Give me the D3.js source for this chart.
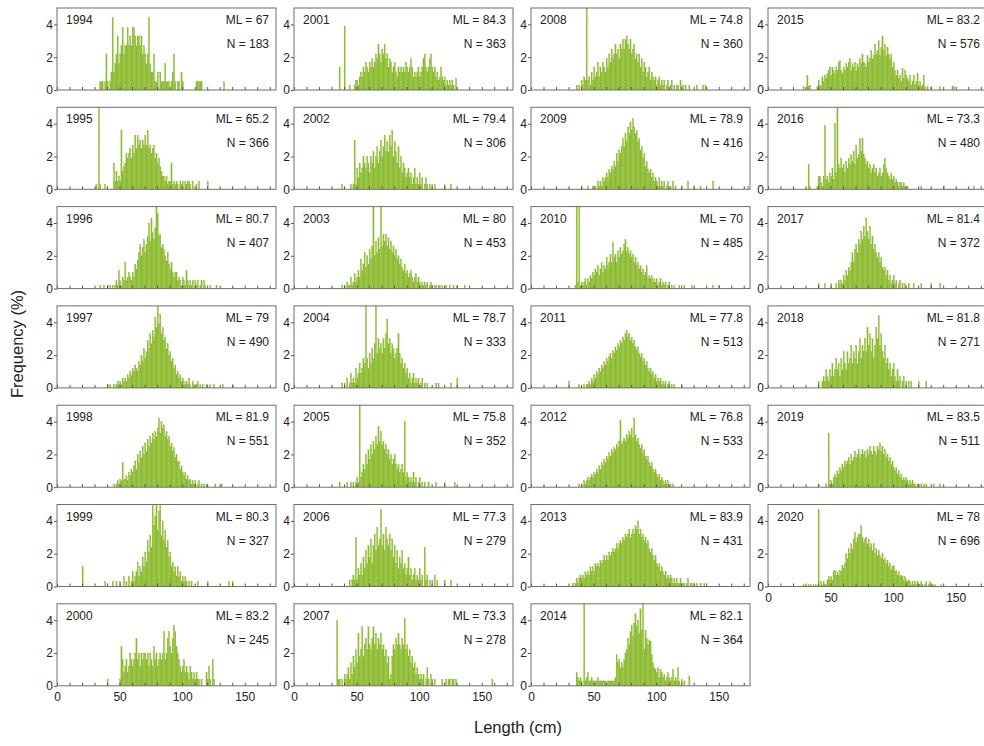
<!DOCTYPE html>
<html lang="en">
<head>
<meta charset="UTF-8">
<title>Length frequency by year</title>
<style>
  body { margin: 0; background: #fff; }
  svg text { font-family: "Liberation Sans", Arial, sans-serif; fill: #222; }
  .bar { fill: #8dbb30; stroke: #8dbb30; stroke-width: 0.25; }
  .frame { fill: none; stroke: #6e6e6e; stroke-width: 1; }
  .axis path { display: none; }
  .axis line { stroke: #555; }
  .axis text { font-size: 12px; fill: #222; }
  .lab { font-size: 12px; }
  .title { font-size: 16.5px; }
</style>
</head>
<body>
<div id="chart"></div>
<script src="https://cdn.jsdelivr.net/npm/d3@7"></script>
<script>
// one panel per year, 1 cm length bins, frequency in %
var years = [1994, 1995, 1996, 1997, 1998, 1999, 2000,
             2001, 2002, 2003, 2004, 2005, 2006, 2007,
             2008, 2009, 2010, 2011, 2012, 2013, 2014,
             2015, 2016, 2017, 2018, 2019, 2020];
var mlValues = [67, 65.2, 80.7, 79, 81.9, 80.3, 83.2,
                84.3, 79.4, 80, 78.7, 75.8, 77.3, 73.3,
                74.8, 78.9, 70, 77.8, 76.8, 83.9, 82.1,
                83.2, 73.3, 81.4, 81.8, 83.5, 78];
var nValues = [183, 366, 407, 490, 551, 327, 245,
               363, 306, 453, 333, 352, 279, 278,
               360, 416, 485, 513, 533, 431, 364,
               576, 480, 372, 271, 511, 696];
// first length bin (cm) of each year's frequency list
var startCm = [34, 31, 34, 40, 45, 20, 40,
               36, 38, 38, 38, 36, 44, 34,
               36, 40, 35, 30, 38, 33, 36,
               28, 32, 40, 40, 40, 28];

var f1994 = [0.5,0.5,0.5,0,0.5,2.2,0.5,0,0.5,1.1, 4.4,1.1,1.6,2.2,3.3,1.6,2.2,2.7,3.8,2.2,
  2.7,2.7,3.8,2.7,3.3,2.7,3.8,3.8,3.3,2.7, 3.3,3.3,2.7,3.3,2.2,2.7,2.2,1.6,2.2,4.4,
  1.6,1.1,1.1,2.2,0.5,0.5,1.1,0,1.1,0.5, 0.5,0.5,1.6,0.5,0.5,0.5,0,0.5,1.1,2.2,
  0.5,0,0.5,0.5,0,1.1,0.5,0,0,0, 0,0,0,0,0,0,0,0.5,0.5,0.5, 0.5,0.5,0,0,0,0,0,0,0,0,
  0,0,0,0,0,0,0,0,0,0.5];
var f1995 = [0.3,0,6,0.3,0,0,0,0.3,0,0,0,0,0,0,1.6,0.5,1.1,0.5,0.8,0.5,
  3.6,1.1,1.4,1.6,2.2,1.9,2.2,2.5,1.9,2.7, 2.2,3.3,2.5,3.3,2.7,3.0,2.5,3.0,2.7,3.3,
  2.7,3.6,2.5,2.7,2.2,2.5,2.7,1.9,2.2,1.6, 1.9,1.4,1.1,0.8,0.8,0.5,0.8,0.3,0.5,0.5,
  1.6,0.3,0.5,0.3,0.5,0.3,0,0.5,0.3,0.5, 0,0.5,0.3,0.5,0.5,0.3,0,0.5,0,0,
  0.3,0,0.5,0,0,0,0,0,0,0.5];
var f1996 = [0.2,0,0,0.2,0,0,0.2,0,0.2,0, 0.2,0,0.2,0.5,0.2,1.1,0.5,0.2,0.7,0.5,
  1.6,0.5,0.7,1.0,0.7,0.5,1.0,0.7,1.5,1.2, 1.7,2.2,2.7,2.0,2.5,3.0,2.2,2.7,3.2,4.0,
  2.9,4.3,3.4,3.0,3.7,5.5,4.6,3.2,3.3,2.5, 2.7,2.4,2.0,1.7,2.2,1.5,1.2,1.6,1.0,0.7,
  1.0,1.0,0.5,0.7,0.5,0.2,0.7,0.5,0.2,1.1, 0.5,0.2,0.5,0.2,0.5,0,0.5,0.2,0.5,0,
  0.2,0.5,0,0.5,0.2,0,0,0,0.2,0, 0,0,0,0.2];
var f1997 = [0.2,0,0.2,0,0,0.2,0,0.2,0.4,0.2, 0.4,0.2,0.6,0.4,0.6,0.4,0.8,0.6,1.0,0.8,
  1.2,1.0,1.4,1.2,1.0,1.6,1.4,2.0,1.6,2.4, 1.8,2.2,2.9,2.4,3.3,2.7,3.5,3.1,4.3,3.7,
  5.3,3.9,4.5,3.3,3.7,2.9,3.1,2.4,2.7,2.0, 2.2,1.6,1.8,1.2,1.4,0.8,1.0,0.6,0.8,0.4,
  0.6,0.4,0.2,0.4,0.2,0.6,0.2,0,0.4,0.2, 0,0.2,0.4,0,0.2,0,0.2,0,0,0.2,
  0,0,0.2,0,0,0.2,0,0,0,0, 0,0,0.2,0,0,0,0,0,0,0,0.2];
var f1998 = [0.2,0,0.2,0.4,0.2,0.5,0.4,1.5,0.4,0.5, 0.7,0.4,0.9,0.7,1.1,0.9,1.3,1.6,1.1,2.0,
  1.5,2.2,1.8,2.5,2.0,2.7,2.2,2.9,2.5,3.1, 2.7,3.3,2.9,3.4,3.1,3.6,4.2,3.3,4.0,3.6,
  3.8,3.1,3.4,2.9,3.1,2.5,2.7,2.2,2.4,1.8, 2.0,1.5,1.6,1.1,1.3,0.9,0.7,0.9,0.5,0.7,
  0.4,0.5,0.2,0.4,0.2,0.4,0,0.2,0.4,0, 0.2,0,0.2,0,0.2,0,0,0,0,0, 0,0.2,0,0,0,0,0.2];
var f1999 = [1.2,0,0,0,0,0,0,0,0,0, 0,0,0,0,0,0,0,0,0.3,0, 0,0,0,0,0.3,0,0,0.3,0,0,
  0.3,0,0,0.6,0,0.3,0,0.6,0,0.3, 0.9,0.3,0.6,0.9,1.5,0.6,1.2,0.9,1.8,1.2,
  2.1,1.5,2.8,2.1,3.1,2.4,5.5,3.7,4.3,5.5, 3.4,4.6,5.5,3.1,4.0,2.8,3.4,2.4,2.8,1.8,
  2.1,1.2,1.5,0.9,1.2,0.6,1.2,0.6,0.9,0.3, 0.6,0.3,0.6,0.3,0,0.3,0,0.3,0,0,
  0,0,0.3,0,0,0,0,0,0,0, 0.3,0,0,0,0,0,0,0,0,0, 0,0,0,0,0,0,0,0.3,0,0,0.3];
var f2000 = [0.4,0,0,0,0,0,0,0,0,0, 0.4,2.4,1.6,0.8,1.2,1.6,0.8,1.2,2.0,1.6,
  1.2,1.6,2.0,2.9,1.6,2.0,1.2,2.0,1.6,2.0, 2.0,1.6,2.0,1.2,2.0,1.6,1.2,2.4,1.6,2.0,
  1.2,1.6,2.0,1.6,2.0,3.3,1.6,2.0,2.9,3.3, 2.4,2.0,2.9,3.7,3.3,2.4,2.0,1.6,1.2,0.8,
  1.2,1.6,0.8,1.2,0.8,0.4,1.2,0.8,0.4,0.8, 0.4,0.8,0.4,0.4,0,0.4,0,0,0,0.8,
  0.4,1.2,0.4,0,1.6,0.4];
var f2001 = [1.4,0,0,0,3.9,0,0,0,0.3,0, 0,0,0.3,0.6,0.6,0.3,0.8,1.1,0.8,1.4,
  1.1,1.7,1.4,1.1,1.7,1.4,1.9,1.4,1.7,2.2, 1.9,2.8,2.2,1.7,2.5,2.2,2.8,1.9,2.2,1.4,
  1.9,1.7,1.1,1.4,1.7,1.1,0.8,1.4,1.1,1.4, 1.1,1.4,1.1,1.7,1.4,1.1,1.4,1.9,1.4,0.8,
  1.1,0.8,1.1,1.4,0.8,1.1,1.4,1.9,2.2,1.4, 1.1,1.4,1.9,2.2,1.4,1.1,1.4,0.8,1.1,0.6,
  0.8,1.4,0.8,0.6,0.8,0.3,0.6,0.3,0.6,0.3, 0.6,0.3,0,0.7];
var f2002 = [0.3,0,0,0,0,0,0,0.3,0,0.3, 3.0,0.3,1.3,0.7,1.6,1.0,1.3,2.0,1.6,1.3,
  2.0,1.6,1.0,2.0,1.6,2.3,1.3,2.0,2.6,1.6, 2.3,3.0,2.0,2.6,3.3,2.3,2.9,2.3,3.3,2.6,
  3.6,2.0,2.9,2.3,1.6,2.6,1.3,2.0,1.0,1.6, 1.3,0.7,1.0,1.3,0.7,1.0,0.3,0.7,1.3,0.3,
  0.7,0.3,1.0,0.3,0.7,0,0.3,0.7,0.3,0, 0.3,0,0.3,0,0.3,0,0,0,0,0, 0,0,0.3,0,0,0,0,0.3];
var f2003 = [0.2,0,0.2,0,0.4,0.2,0.2,0.7,0.2,0.4, 0.9,0.4,0.7,1.1,0.7,1.8,1.1,1.5,2.2,1.3,
  2.0,1.5,2.4,1.8,2.6,5.5,2.0,2.9,2.2,3.1, 2.4,5.5,2.6,3.3,2.9,3.3,2.6,3.1,2.4,2.9,
  2.2,2.6,2.0,2.4,1.8,2.0,1.5,1.8,1.3,1.1, 1.5,0.9,1.1,0.7,0.9,1.1,0.7,0.4,0.7,0.9,
  0.4,0.7,0.4,0.2,0.4,0.2,0.4,0.2,0.4,0, 0.2,0.4,0.2,0,0.2,0.2,0,0.2,0.2,0,
  0.2,0,0,0.2,0,0,0.2,0,0,0.2, 0,0,0.2,0,0,0,0,0,0.2,0];
var f2004 = [0.3,0,0.3,0,0.6,0,0.3,0.9,0.3,0.6, 0.3,1.2,0.6,0.9,1.5,0.9,1.2,1.8,1.5,5.5,
  1.8,1.2,2.1,1.5,2.4,1.8,2.7,5.5,2.1,3.0, 2.4,2.7,2.1,3.0,2.4,3.3,4.2,2.7,3.0,2.1,
  2.7,2.4,1.8,2.1,2.4,3.3,2.1,1.5,1.8,1.2, 1.5,0.9,1.2,0.6,0.9,0.3,0.6,0.9,0.3,0.6,
  0.3,0.6,0,0.3,0.6,0,0.3,0,0.3,0, 0,0,0,0,0,0.3,0,0.3,0,0, 0,0,0,0,0,0,0,0.3,0,0,0,0,0.6];
var f2005 = [0.3,0,0,0,0,0,0.3,0,0,0.3, 0,0.3,0,0.3,0.6,0.3,5.5,0.6,0.9,1.4,
  1.1,2.0,1.4,2.3,1.7,2.6,2.0,2.8,2.3,3.1, 2.6,3.7,2.8,3.4,2.6,2.8,2.3,2.6,2.0,2.3,
  1.7,2.0,1.4,1.7,2.0,1.4,1.1,1.4,0.9,1.1, 1.4,0.9,4.0,0.6,0.9,0.6,0.3,0.6,0.3,0.9,
  0.3,0.6,0,0.3,0.6,0,0.3,0,0.3,0, 0,0.3,0,0,0,0,0,0.3,0,0, 0,0,0,0,0.3,0,0,0,0,0,0,0,0.3];
var f2006 = [0.4,0,0.4,0.7,0.4,3.0,0.4,1.1,0.7,1.4, 0.7,1.8,1.1,2.2,1.4,2.5,1.8,2.9,1.4,2.5,
  3.2,2.2,3.6,2.5,2.9,4.7,2.5,3.2,2.2,3.6, 2.9,2.5,3.2,2.2,2.9,1.8,2.5,1.4,2.2,1.1,
  1.8,1.4,2.2,1.1,1.4,0.7,1.1,1.8,0.7,1.1, 0.4,0.7,1.1,0.4,0.7,0.4,1.1,0.4,0.7,0,
  2.4,0.4,0.7,0,0.4,0,0.4,0,0.7,0, 0.4,0,0,0,0,0,0.4,0,0,0,0,0.4];
var f2007 = [4.0,0.4,0.4,0,0.4,0,0.7,0.4,0.7,1.1, 0.4,1.4,0.7,1.8,1.1,2.2,1.4,3.2,1.8,2.2,
  3.6,1.8,2.5,2.9,2.2,3.6,2.5,2.2,2.9,3.6, 2.5,3.2,2.2,2.9,2.5,3.2,2.2,2.5,1.8,2.2,
  1.4,1.8,0.4,0.7,1.8,2.5,2.2,2.9,2.5,3.2, 2.5,2.2,2.9,2.5,4.1,2.2,2.5,1.8,2.2,1.4,
  1.8,1.1,1.4,0.7,1.1,0.7,0.4,0.7,0.4,0.7, 0,0.4,1.1,0.4,0,0.7,0.4,0,0.4,0,
  0,0,0,0,0.4,0,0,0.4,0,0.4, 0.4,0,0.4,0.4,0,0.4,0,0,0,0,
  0,0,0,0,0,0,0,0,0,0, 0,0,0,0,0,0,0,0,0,0, 0,0,0,0,0.4];
var f2008 = [0.3,0,0.3,0,0.6,0.3,0.8,0.6,5.5,0.6, 0.8,0.3,1.1,0.6,1.4,0.8,1.1,1.7,0.8,1.4,
  1.1,1.7,1.4,1.1,1.9,1.4,2.2,1.7,2.5,1.9, 2.2,2.8,2.2,2.5,1.9,2.8,2.5,3.1,2.5,3.1,
  3.3,2.8,2.5,3.1,2.2,2.5,2.8,1.9,2.2,1.7, 2.2,1.4,1.9,1.1,1.7,1.4,0.8,1.1,1.4,0.6,
  1.1,0.8,0.6,0.8,0.3,0.6,0.8,0.3,0.6,0.3, 0.6,0,0.3,0.6,0,0.3,0.6,0,0.3,0,
  0.3,0.3,0,0.6,0,0.3,0,0.3,0,0, 0.3,0,0,0,0,0,0.3,0,0,0,0,0.3,0,0.3];
var f2009 = [0.2,0,0,0,0,0.2,0,0,0,0.2, 0,0.2,0,0.5,0.2,0.5,0.2,0.7,0.5,0.7,
  1.0,0.7,1.2,1.0,1.4,1.2,1.7,1.4,2.2,1.7, 2.4,2.2,2.6,3.1,2.6,3.4,2.9,3.8,3.4,4.1,
  3.6,4.3,3.8,3.4,3.6,2.9,3.1,2.4,2.6,1.9, 2.2,1.4,1.7,1.2,1.0,1.2,0.7,1.0,0.5,0.7,
  0.5,0.2,0.7,0.2,0.5,0.2,0.5,0,0.2,0.5, 0,0.2,0,0.5,0,0.2,0,0,0,0,
  0.2,0,0,0,0,0.5,0,0,0,0, 0.2,0,0,0,0,0.2,0,0,0,0, 0,0,0,0,0,0.5,0,0,0,0,
  0,0,0,0,0,0,0,0,0,0, 0,0,0,0,0,0,0,0,0,0, 0,0,0,0.2];
var f2010 = [0.2,5.5,0.4,5.5,0.2,0.4,0.2,0.4,0.6,0.2, 0.6,0.4,0.8,0.6,1.0,0.8,1.2,1.0,1.4,0.8,
  1.2,1.6,1.0,1.4,1.2,1.9,1.4,1.6,2.1,1.6, 2.8,1.9,2.1,1.6,2.3,1.9,2.5,2.1,2.3,2.7,
  3.0,2.3,2.5,2.1,2.3,1.9,2.1,1.6,1.9,1.4, 1.6,1.2,1.4,1.0,1.2,0.8,1.0,1.4,0.6,0.8,
  0.6,0.8,0.4,0.6,0.4,0.6,0.2,0.4,0.6,0.2, 0.4,0.2,0.4,0,0.2,0.4,0,0.2,0,0.2,
  0,0,0,0.2,0,0,0,0.2,0,0, 0,0,0,0.2,0,0,0,0,0,0, 0,0,0,0,0,0,0,0,0,0, 0.2,0,0,0,0,0.2];
var f2011 = [0.4,0,0,0,0,0,0,0,0.2,0, 0,0,0.2,0,0.2,0.2,0.4,0.2,0.6,0.4,
  0.8,0.6,1.0,0.8,1.2,1.0,1.4,1.2,1.6,1.4, 1.8,1.6,1.9,2.1,1.8,2.3,2.1,2.5,2.3,2.7,
  2.5,2.9,2.7,3.1,2.9,3.3,3.5,3.1,3.3,2.9, 3.1,2.7,2.9,2.5,2.3,2.5,2.1,1.9,2.1,1.6,
  1.8,1.4,1.6,1.2,1.0,1.2,0.8,1.0,0.6,0.8, 0.4,0.6,0.4,0.6,0.2,0.4,0.2,0.4,0,0.2,
  0.4,0,0.2,0,0.2,0,0,0,0,0,0.2];
var f2012 = [0.2,0,0.2,0,0.4,0.2,0.4,0.6,0.4,0.6, 0.8,0.6,0.9,0.8,1.1,0.9,1.3,1.1,1.5,1.3,
  1.7,1.5,1.9,1.7,2.1,1.9,2.3,2.1,2.4,2.3, 2.6,2.4,2.8,4.1,2.6,2.8,3.0,2.8,3.2,3.0,
  3.4,3.2,3.6,3.0,4.2,3.2,2.8,3.0,2.6,2.4, 2.6,2.1,2.3,1.9,1.7,1.9,1.5,1.3,1.5,1.1,
  0.9,1.1,0.8,0.6,0.8,0.4,0.6,0.4,0.2,0.4, 0.2,0.4,0,0.2,0,0.2];
var f2013 = [0.2,0,0.2,0.5,0.2,0.5,0.7,0.5,0.7,0.5, 0.9,0.7,0.9,0.7,1.2,0.9,1.2,0.9,1.4,1.2,
  1.4,1.2,1.6,1.4,1.6,1.9,1.6,1.9,1.6,2.1, 1.9,2.1,2.3,2.1,2.3,2.6,2.3,2.6,2.8,2.6,
  3.0,2.8,3.2,3.0,3.2,3.5,3.0,3.2,3.5,3.2, 3.7,3.5,4.0,3.2,3.5,3.0,3.2,2.8,3.0,2.6,
  2.8,2.3,2.1,2.3,1.9,1.6,1.9,1.4,1.2,1.4, 0.9,1.2,0.9,0.7,0.9,0.5,0.7,0.5,0.7,0.5,
  0.2,0.5,0.2,0.5,0.2,0.2,0.5,0,0.2,0.2, 0,0.2,0.5,0,0.2,0.2,0,0.2,0,0.2, 0,0,0.2,0,0,0.2];
var f2014 = [0.8,0.5,0.3,0.5,0.3,0,5.5,0.3,0.5,0.8, 0.3,0.3,0.5,0.3,0.3,0.3,0.3,0.5,0.3,0.3,
  0.3,0.3,0.3,0.3,0,0.3,0.3,0.3,0.3,0.3, 0.3,0.5,1.9,1.4,1.6,1.1,1.4,1.1,1.6,2.0,
  2.2,2.9,2.5,3.3,3.7,3.0,3.8,4.4,3.6,4.0, 3.2,4.7,3.4,5.5,2.2,3.4,2.9,2.5,2.8,2.7,
  1.9,1.4,1.1,1.0,0.8,1.1,0.5,1.0,0.8,0.5, 0.7,0.3,0.5,0.8,0.5,0.3,0.5,1.0,0.3,0.5,
  0.3,1.1,0.3,0,0.4,0,0.3,0,0,0,0.6];
var f2015 = [0.2,0,0,0.9,0.2,0.3,0,0,0,0, 0,0.2,0.6,0.3,0.2,0.8,0.5,0.9,0.7,1.0,
  1.2,1.4,0.9,1.4,1.2,1.0,1.4,1.2,1.7,1.8, 1.2,1.0,1.4,1.2,1.6,1.4,1.7,1.9,1.2,1.6,
  1.4,1.7,1.2,1.6,1.4,1.9,1.6,2.2,1.7,1.6, 1.4,2.1,1.7,1.9,2.4,1.9,2.1,2.8,2.2,2.4,
  3.0,2.1,2.6,3.3,2.4,2.8,2.1,2.6,2.2,1.9, 2.2,1.4,1.7,1.2,0.9,1.2,0.7,0.9,0.5,1.3,
  0.7,1.2,0.9,0.7,0.5,0.9,0.3,0.5,0.9,0.3, 0.5,1.0,0.3,0.5,0.2,0.3,0.9,0.2,0,0.2,
  0,0,0.2,0,0,0,0,0,0,0.2, 0,0,0,0,0,0,0,0,0,0.2,0.2];
var f2016 = [1.5,0.2,0,0,0,0,0,0.2,0.8,0.8, 0.4,0.2,0.8,3.9,0.6,0.8,0.4,1.0,0.8,1.3,
  0.6,4.0,1.0,5.5,1.5,1.3,1.9,1.3,1.5,1.0, 1.7,1.3,1.9,1.5,2.1,1.7,2.3,1.5,2.7,1.9,
  2.1,3.1,2.3,3.1,2.1,1.9,1.5,1.7,1.3,1.5, 1.0,1.3,1.5,1.0,1.3,0.8,1.0,1.3,0.8,1.0,
  1.5,1.9,1.3,1.0,0.8,0.6,1.0,0.6,0.8,0.4, 0.6,0.4,0.2,0.4,0.4,0.2,0.4,0.2,0,0.2,
  0,0,0,0,0,0,0,0,0,0, 0.2,0,0,0,0,0,0,0,0,0, 0,0,0,0,0,0,0,0,0.2,0,
  0,0,0,0,0,0,0,0,0,0, 0,0,0,0,0,0,0,0,0,0, 0,0,0.2];
var f2017 = [0.3,0,0,0,0,0.3,0,0,0,0, 0.3,0,0,0,0.3,0,0.5,0.3,0.5,0.3,
  0.8,0.5,1.1,0.8,1.3,1.1,1.6,2.2,1.6,2.4, 2.7,2.2,3.0,2.7,3.5,3.0,3.8,3.2,4.3,3.5,
  3.0,3.8,2.7,3.2,2.4,2.7,2.2,1.9,2.2,1.6, 1.9,1.3,1.1,1.3,0.8,1.1,0.5,0.8,0.3,0.5,
  0.8,0.3,0.5,0,0.3,0.5,0,0.3,0,0.3, 0,0,0.3,0,0,0,0.3,0,0,0,
  0,0,0.3,0,0,0,0,0,0,0, 0.3,0,0,0,0,0,0,0.3];
var f2018 = [0.4,0,0,0.4,0.7,0.4,1.1,0.7,0.4,1.1, 0.7,1.5,0.7,1.1,1.8,1.1,1.5,0.7,1.8,1.1,
  2.2,1.5,1.1,2.2,1.5,1.8,2.6,1.5,2.2,1.8, 2.6,1.5,2.2,3.0,1.8,2.6,2.2,3.0,2.2,3.7,
  2.6,3.3,2.2,3.0,1.8,2.6,3.7,3.0,4.4,2.6, 3.3,2.2,1.8,2.6,1.5,1.8,1.1,1.5,0.7,1.1,
  1.5,0.7,0.4,1.1,0.4,0.7,0,0.4,0.7,0, 0.4,0,0.4,0,0.4,0,0,0,0,0, 0.4,0,0,0,0,0,0.4];
var f2019 = [0.2,0,0,0,0,0,0.2,0,3.3,0.2, 0.4,0.2,0.6,0.8,0.6,1.0,0.8,1.2,1.0,1.4,
  1.2,1.6,1.4,1.6,1.8,1.4,2.0,1.6,1.8,2.2, 1.8,2.0,2.3,1.8,2.0,2.3,2.0,2.2,1.8,2.3,
  2.0,2.5,2.2,2.0,2.5,2.2,2.0,2.5,2.3,2.7, 2.2,2.5,2.0,2.3,1.8,2.0,1.6,1.8,1.4,1.6,
  1.2,1.0,1.2,0.8,1.0,0.6,0.8,0.4,0.6,0.4, 0.6,0.4,0.2,0.4,0.2,0.4,0.2,0.2,0,0.2,
  0.2,0,0.2,0,0.2,0,0.2,0,0,0, 0,0,0.2,0,0,0,0,0.2];
var f2020 = [0.1,0,0,0,0.1,0,0.1,0,0.1,0, 0.1,0,4.7,0,0.3,0.1,0.3,0.1,0.1,0.4,
  0.6,0.4,0.6,0.4,0.9,1.0,0.7,0.9,0.7,1.0, 0.9,1.3,1.1,1.4,2.0,1.7,2.3,2.0,2.6,2.3,
  2.9,3.3,2.7,3.0,3.2,3.2,3.7,3.0,2.7,2.9, 3.0,2.6,2.9,2.4,2.6,2.2,2.6,2.0,2.3,1.9,
  2.2,1.9,1.7,2.0,1.6,1.7,1.4,1.6,1.2,1.4, 1.0,1.2,1.3,0.9,1.0,0.7,0.9,0.6,0.7,0.6,
  0.4,0.6,0.4,0.3,0.4,0.3,0.1,0.3,0.1,0.3, 0.1,0.3,0.1,0.1,0.3,0.1,0,0.1,0.3,0,
  0.1,0.3,0,0.1,0,0.1,0,0,0,0,0.1];

var freqs = [f1994, f1995, f1996, f1997, f1998, f1999, f2000,
             f2001, f2002, f2003, f2004, f2005, f2006, f2007,
             f2008, f2009, f2010, f2011, f2012, f2013, f2014,
             f2015, f2016, f2017, f2018, f2019, f2020];

var width = 984, height = 746;
var gridLeft = 57, gridTop = 8,
    panelW = 219, panelH = 82,
    stepX = 237, stepY = 99.3,
    nRows = 7;

var x = d3.scaleLinear().domain([0, 175]).range([0, panelW]);
var y = d3.scaleLinear().domain([0, 5]).range([panelH, 0]).clamp(true);

var svg = d3.select("#chart").append("svg")
    .attr("width", width)
    .attr("height", height);

svg.append("defs").append("clipPath").attr("id", "plotclip")
    .append("rect").attr("width", panelW).attr("height", panelH);

var panels = svg.selectAll(".panel")
    .data(years)
    .enter().append("g")
    .attr("class", "panel")
    .attr("transform", function(d, i) {
        var col = Math.floor(i / nRows), row = i % nRows;
        return "translate(" + (gridLeft + col * stepX) + "," + (gridTop + row * stepY) + ")";
    });

panels.each(function(yr, i) {
    var g = d3.select(this);
    var bins = freqs[i].map(function(v, k) { return {len: startCm[i] + k, v: v}; })
        .filter(function(b) { return b.v > 0; });

    g.append("g").attr("clip-path", "url(#plotclip)")
        .selectAll("rect")
        .data(bins)
        .enter().append("rect")
        .attr("class", "bar")
        .attr("x", function(b) { return x(b.len); })
        .attr("width", function(b) { return x(b.len + 1) - x(b.len); })
        .attr("y", function(b) { return y(b.v); })
        .attr("height", function(b) { return y(0) - y(b.v); });

    var lastInCol = (i % nRows === nRows - 1) || i === years.length - 1;

    g.append("g").attr("class", "axis")
        .attr("transform", "translate(0," + panelH + ")")
        .call(d3.axisBottom(x)
            .tickValues(d3.range(0, 171, 10))
            .tickSize(-3)
            .tickPadding(7)
            .tickFormat(function(d) { return lastInCol && d % 50 === 0 ? d : ""; }));

    g.append("g").attr("class", "axis")
        .call(d3.axisLeft(y).tickValues([0, 2, 4]).tickSize(3).tickPadding(1)
            .tickFormat(d3.format("d")));

    g.append("rect").attr("class", "frame")
        .attr("width", panelW).attr("height", panelH);

    g.append("text").attr("class", "lab")
        .attr("x", 9).attr("y", 16)
        .text(yr);
    g.append("text").attr("class", "lab")
        .attr("x", panelW - 7).attr("y", 16)
        .attr("text-anchor", "end")
        .text("ML = " + mlValues[i]);
    g.append("text").attr("class", "lab")
        .attr("x", panelW - 7).attr("y", 40)
        .attr("text-anchor", "end")
        .text("N = " + nValues[i]);
});

svg.append("text").attr("class", "title")
    .attr("transform", "translate(23,344) rotate(-90)")
    .attr("text-anchor", "middle")
    .text("Frequency (%)");

svg.append("text").attr("class", "title")
    .attr("x", 518).attr("y", 733)
    .attr("text-anchor", "middle")
    .text("Length (cm)");
</script>
</body>
</html>
